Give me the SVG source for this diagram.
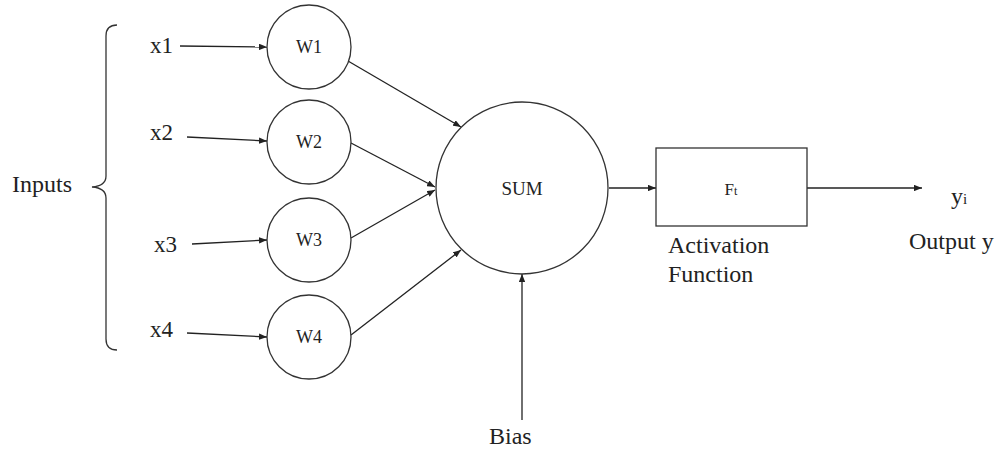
<svg xmlns="http://www.w3.org/2000/svg" width="1000" height="452" viewBox="0 0 1000 452">
<style>
text{font-family:"Liberation Serif","Times New Roman",serif;fill:#222}
.n{fill:#fff;stroke:#333;stroke-width:1.3}
.c{fill:none;stroke:#222;stroke-width:1.3;marker-end:url(#ah)}
.big{font-size:24px}
.x{font-size:23px}
.sm{font-size:18px}
</style>
<defs>
<marker id="ah" viewBox="0 0 10 8" refX="10" refY="4" markerWidth="8" markerHeight="6.4" markerUnits="userSpaceOnUse" orient="auto">
<path d="M0,0 L10,4 L0,8 z" fill="#222"/>
</marker>
</defs>
<rect width="1000" height="452" fill="#fff"/>
<g id="brace">
<path d="M117,25 Q106,25 106,36 L106,176 Q106,186 92,187 Q106,188 106,198 L106,339 Q106,350 117,350" fill="none" stroke="#333" stroke-width="1.3"/>
</g>
<g id="connectors">
<line class="c" x1="180" y1="46" x2="267" y2="47"/>
<line class="c" x1="187" y1="137" x2="267" y2="141"/>
<line class="c" x1="192" y1="244" x2="267" y2="240"/>
<line class="c" x1="187" y1="333" x2="267" y2="337"/>
<line class="c" x1="348" y1="61" x2="461" y2="127"/>
<line class="c" x1="351" y1="143" x2="435" y2="187"/>
<line class="c" x1="351" y1="238" x2="435" y2="190"/>
<line class="c" x1="351" y1="335" x2="461" y2="250"/>
<line class="c" x1="522" y1="420" x2="522" y2="274"/>
<line class="c" x1="609" y1="188" x2="656" y2="188"/>
<line class="c" x1="807" y1="188" x2="922" y2="188"/>
</g>
<g id="inputs-label"><text class="big" x="12" y="192">Inputs</text></g>
<g id="x1"><text class="x" x="150" y="53">x1</text></g>
<g id="x2"><text class="x" x="150" y="140">x2</text></g>
<g id="x3"><text class="x" x="154" y="252">x3</text></g>
<g id="x4"><text class="x" x="150" y="337">x4</text></g>
<g id="w1"><circle class="n" cx="309" cy="47" r="42"/><text class="sm" x="309" y="53" text-anchor="middle">W1</text></g>
<g id="w2"><circle class="n" cx="309" cy="142" r="42"/><text class="sm" x="309" y="148" text-anchor="middle">W2</text></g>
<g id="w3"><circle class="n" cx="309" cy="240" r="42"/><text class="sm" x="309" y="246" text-anchor="middle">W3</text></g>
<g id="w4"><circle class="n" cx="309" cy="337" r="42"/><text class="sm" x="309" y="343" text-anchor="middle">W4</text></g>
<g id="sum"><circle class="n" cx="522" cy="188" r="86"/><text font-size="19" x="522" y="195" text-anchor="middle">SUM</text></g>
<g id="activation"><rect class="n" x="656" y="148" width="151" height="78"/><text x="731" y="195" text-anchor="middle" font-size="17">F<tspan font-size="12">t</tspan></text>
<text class="big" x="668" y="253">Activation</text><text class="big" x="668" y="282">Function</text></g>
<g id="output"><text class="big" x="951" y="204">y<tspan font-size="15">i</tspan></text><text class="big" x="909" y="249">Output y</text></g>
<g id="bias"><text class="big" x="489" y="444">Bias</text></g>
</svg>
